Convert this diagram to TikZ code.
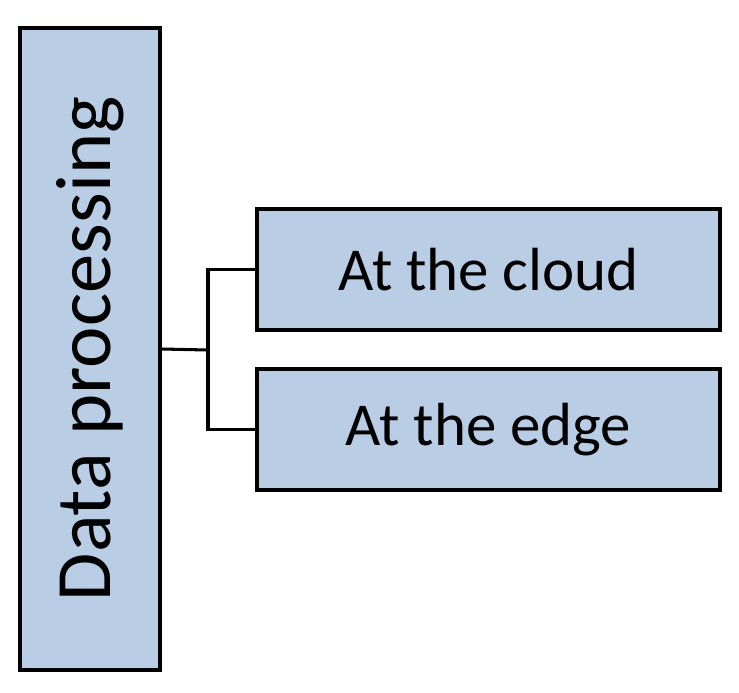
\documentclass[tikz,border=0pt]{standalone}
\usepackage{fontspec}
\setmainfont{Carlito}
\usetikzlibrary{positioning}
\begin{document}
\begin{tikzpicture}[
    x=0.03cm, y=-0.03cm,
    box/.style={rectangle, draw, line width=3pt, fill=boxblue, inner sep=0pt, align=center, font=\fontsize{52}{62}\selectfont},
    link/.style={line width=2.6pt}
]
    \definecolor{boxblue}{HTML}{B9CDE5}
    \useasboundingbox (0,0) rectangle (739,692);
    % Main box
    \node[box, minimum width=19.26cm, minimum height=4.2cm, rotate=90, font=\fontsize{67}{80}\selectfont] (data) at (90,349) {Data processing};
    % Sub boxes
    \node[box, minimum width=13.89cm, minimum height=3.63cm] (cloud) at (488.5,269.5) {At the cloud};
    \node[box, minimum width=13.89cm, minimum height=3.63cm] (edge) at (488.5,429.5) {At the edge};
    % Connections
    \coordinate (split) at (208,350);
    \draw[link] (data.south) -- (split);
    \draw[link] (cloud.west) -| (split) |- (edge.west);
\end{tikzpicture}
\end{document}
